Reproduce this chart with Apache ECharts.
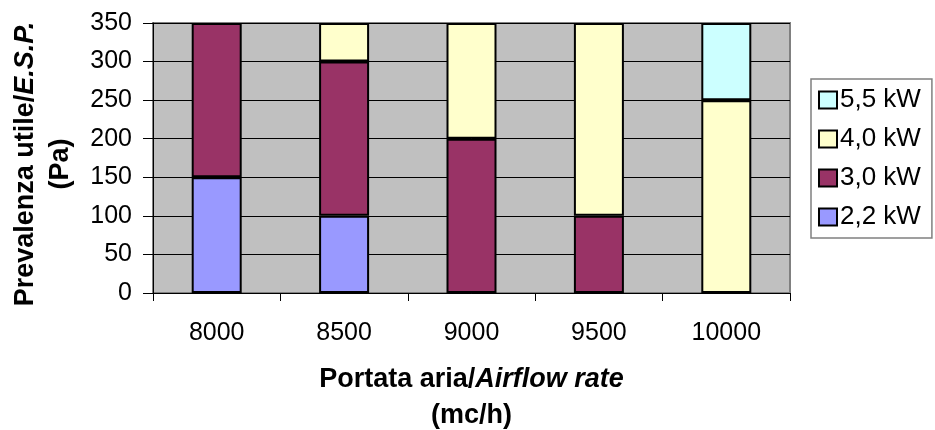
<!DOCTYPE html>
<html>
<head>
<meta charset="utf-8">
<script src="https://cdn.jsdelivr.net/npm/echarts@6/dist/echarts.min.js"></script>
<style>html,body{margin:0;padding:0;background:#fff}#c{width:935px;height:430px}</style>
</head>
<body>
<div id="c"></div>
<script>
const categories = ['8000', '8500', '9000', '9500', '10000'];
const s22 = [150, 100, null, null, null];
const s30 = [200, 200, 200, 100, null];
const s40 = [null, 50, 150, 250, 250];
const s55 = [null, null, null, null, 100];
const seriesNames = ['2,2 kW', '3,0 kW', '4,0 kW', '5,5 kW'];
const legendOrder = ['5,5 kW', '4,0 kW', '3,0 kW', '2,2 kW'];
const yTicks = { min: 0, max: 350, interval: 50 };

const FONT = "'Liberation Sans', Arial, sans-serif";
const colors = ['#9999FF', '#993366', '#FFFFCC', '#CCFFFF'];
const values = [s22, s30, s40, s55];

const chart = echarts.init(document.getElementById('c'), null, { renderer: 'canvas' });
chart.setOption({
  animation: false,
  backgroundColor: '#ffffff',
  textStyle: { fontFamily: FONT },
  grid: {
    left: 153, right: 145, top: 23, bottom: 137,
    containLabel: false, outerBoundsMode: 'none',
    show: true, backgroundColor: '#C0C0C0', borderColor: '#808080', borderWidth: 2
  },
  legend: {
    data: legendOrder,
    orient: 'vertical',
    left: 811, top: 79,
    padding: [6, 11, 6, 7],
    itemGap: 9,
    itemWidth: 18, itemHeight: 17,
    icon: 'rect',
    backgroundColor: '#ffffff',
    borderColor: '#808080', borderWidth: 1.5,
    textStyle: { fontSize: 26, color: '#000', fontFamily: FONT, lineHeight: 30, padding: [0, 0, 0, -2] },
    itemStyle: { borderColor: '#000', borderWidth: 2 }
  },
  xAxis: {
    type: 'category',
    data: categories,
    boundaryGap: true,
    axisLine: { show: true, lineStyle: { color: '#000', width: 1 } },
    axisTick: { show: true, length: 8, lineStyle: { color: '#000' } },
    axisLabel: { fontSize: 25, color: '#000', margin: 28, fontFamily: FONT },
    splitLine: { show: false },
    name: 'Portata aria/{i|Airflow rate}\n(mc/h)',
    nameLocation: 'middle',
    nameGap: 69,
    nameTextStyle: {
      fontSize: 27, fontWeight: 'bold', color: '#000', fontFamily: FONT, lineHeight: 36,
      rich: { i: { fontSize: 27, fontWeight: 'bold', fontStyle: 'italic', color: '#000', fontFamily: FONT, lineHeight: 36 } }
    }
  },
  yAxis: {
    type: 'value',
    min: yTicks.min, max: yTicks.max, interval: yTicks.interval,
    axisLine: { show: true, lineStyle: { color: '#000', width: 1 } },
    axisTick: { show: true, length: 10, lineStyle: { color: '#000' } },
    axisLabel: { fontSize: 25, color: '#000', margin: 21, fontFamily: FONT },
    splitLine: { show: true, lineStyle: { color: '#000', width: 1 } },
    name: 'Prevalenza utile/{i|E.S.P.}\n(Pa)',
    nameLocation: 'middle',
    nameGap: 75,
    nameRotate: 90,
    nameTextStyle: {
      fontSize: 27, fontWeight: 'bold', color: '#000', fontFamily: FONT, lineHeight: 35,
      padding: [0, 12, 0, 0],
      rich: { i: { fontSize: 27, fontWeight: 'bold', fontStyle: 'italic', color: '#000', fontFamily: FONT, lineHeight: 35 } }
    }
  },
  series: seriesNames.map((n, i) => ({
    name: n,
    type: 'bar',
    stack: 'total',
    barWidth: 50,
    data: values[i],
    itemStyle: { color: colors[i], borderColor: '#000', borderWidth: 2 }
  }))
});
</script>
</body>
</html>
